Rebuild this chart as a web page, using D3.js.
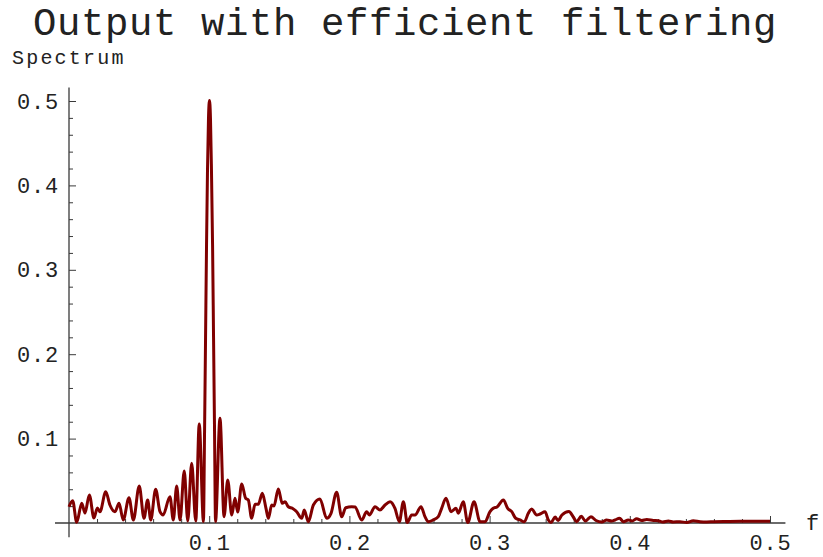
<!DOCTYPE html>
<html>
<head>
<meta charset="utf-8">
<script src="https://cdn.jsdelivr.net/npm/d3@7/dist/d3.min.js"></script>
<style>
  html, body { margin: 0; padding: 0; background: #fff; }
  svg { display: block; }
  text { font-family: 'Liberation Mono', 'Courier New', monospace; fill: #222; }
</style>
</head>
<body>
<svg id="chart" width="823" height="557"></svg>
<script>
// ---- data ----
const titleText = "Output with efficient filtering";
const yLabel = "Spectrum";
const xLabel = "f";
const xTickValues = [0.1, 0.2, 0.3, 0.4, 0.5];
const yTickValues = [0.1, 0.2, 0.3, 0.4, 0.5];
const minorStep = 0.02;

const freq = [
  0.0000, 0.0026, 0.0055, 0.0091, 0.0114, 0.0145, 0.0178, 0.0202, 0.0221, 0.0262,
  0.0292, 0.0328, 0.0357, 0.0387, 0.0428, 0.0459, 0.0501, 0.0535, 0.0561, 0.0583,
  0.0618, 0.0649, 0.0671, 0.0720, 0.0744, 0.0768, 0.0792, 0.0822, 0.0847, 0.0875,
  0.0904, 0.0929, 0.0959,
  0.0967, 0.0974, 0.0981, 0.0988, 0.0995, 0.1002, 0.1009, 0.1016, 0.1024, 0.1031, 0.1038,
  0.1045, 0.1077, 0.1106, 0.1132, 0.1161, 0.1184, 0.1203, 0.1232, 0.1260, 0.1279,
  0.1303, 0.1327, 0.1350, 0.1379, 0.1405, 0.1422, 0.1446, 0.1462, 0.1493, 0.1521,
  0.1541, 0.1564, 0.1593, 0.1624, 0.1660, 0.1678, 0.1707, 0.1743, 0.1790, 0.1838,
  0.1869, 0.1909, 0.1945, 0.1974, 0.2016, 0.2040, 0.2088, 0.2123, 0.2142, 0.2183,
  0.2218, 0.2254, 0.2290, 0.2325, 0.2356, 0.2385, 0.2413, 0.2444, 0.2468, 0.2511,
  0.2539, 0.2563, 0.2598, 0.2634, 0.2658, 0.2689, 0.2725, 0.2760, 0.2777, 0.2812,
  0.2844, 0.2889, 0.2932, 0.2967, 0.3003, 0.3026, 0.3053, 0.3098, 0.3129, 0.3158,
  0.3186, 0.3217, 0.3248, 0.3276, 0.3300, 0.3336, 0.3360, 0.3395, 0.3419, 0.3438,
  0.3467, 0.3488, 0.3516, 0.3566, 0.3597, 0.3621, 0.3654, 0.3684, 0.3723, 0.3759,
  0.3800, 0.3835, 0.3871, 0.3894, 0.3927, 0.3955, 0.3989, 0.4016, 0.4049, 0.4085,
  0.4121, 0.4168, 0.4203, 0.4235, 0.4275, 0.4310, 0.4358, 0.4406, 0.4453, 0.4501,
  0.4549, 0.4596, 0.4691, 0.4786, 0.4881, 0.5000
];
const spectrum = [
  0.0193, 0.0264, 0.0008, 0.0233, 0.0118, 0.0332, 0.0059, 0.0178, 0.0134, 0.0371,
  0.0213, 0.0134, 0.0233, 0.0036, 0.0300, 0.0036, 0.0438, 0.0056, 0.0273, 0.0036,
  0.0399, 0.0134, 0.0095, 0.0312, 0.0036, 0.0438, 0.0036, 0.0616, 0.0024, 0.0707,
  0.0024, 0.1173, 0.0018,
  0.1100, 0.2200, 0.3300, 0.4200, 0.4800, 0.5006, 0.4800, 0.4200, 0.3300, 0.2200, 0.1100,
  0.0018, 0.1241, 0.0075, 0.0509, 0.0095, 0.0293, 0.0130, 0.0462, 0.0293, 0.0273,
  0.0056, 0.0222, 0.0222, 0.0352, 0.0174, 0.0056, 0.0213, 0.0201, 0.0403, 0.0233,
  0.0252, 0.0193, 0.0174, 0.0134, 0.0056, 0.0154, 0.0015, 0.0213, 0.0284, 0.0056,
  0.0115, 0.0364, 0.0075, 0.0181, 0.0193, 0.0190, 0.0036, 0.0134, 0.0095, 0.0193,
  0.0154, 0.0213, 0.0252, 0.0174, 0.0015, 0.0252, 0.0005, 0.0095, 0.0095, 0.0193,
  0.0075, 0.0015, 0.0036, 0.0075, 0.0174, 0.0293, 0.0134, 0.0174, 0.0115, 0.0252,
  0.0005, 0.0252, 0.0015, 0.0015, 0.0134, 0.0174, 0.0190, 0.0273, 0.0174, 0.0134,
  0.0056, 0.0036, 0.0015, 0.0115, 0.0166, 0.0095, 0.0107, 0.0134, 0.0036, 0.0005,
  0.0071, 0.0030, 0.0095, 0.0136, 0.0071, 0.0015, 0.0079, 0.0024, 0.0075, 0.0030,
  0.0012, 0.0036, 0.0024, 0.0036, 0.0056, 0.0015, 0.0036, 0.0024, 0.0051, 0.0030,
  0.0041, 0.0030, 0.0027, 0.0012, 0.0024, 0.0012, 0.0015, 0.0006, 0.0027, 0.0015,
  0.0012, 0.0015, 0.0018, 0.0020, 0.0020, 0.0020
];

// ---- chart ----
const svg = d3.select("#chart");
const x = d3.scaleLinear().domain([0, 0.5]).range([69, 770]);
const y = d3.scaleLinear().domain([0, 0.5]).range([523, 101]);
const axisColor = "#3a3a3a";
const textColor = "#2a2a2a";

// title
svg.append("text")
  .attr("x", 405).attr("y", 35)
  .attr("text-anchor", "middle")
  .attr("fill", textColor)
  .style("font-size", "39px")
  .style("letter-spacing", "0.6px")
  .text(titleText);

// axis labels
svg.append("text").attr("x", 12).attr("y", 64)
  .attr("fill", textColor)
  .style("font-size", "20px").style("letter-spacing", "2.2px").text(yLabel);
svg.append("text").attr("x", 806).attr("y", 530)
  .attr("fill", textColor)
  .style("font-size", "22px").text(xLabel);

// minor ticks
const minorX = d3.range(1, 25).map(i => +(i * minorStep).toFixed(2)).filter(v => Math.abs(v * 10 - Math.round(v * 10)) > 1e-6);
const minorY = minorX;

const gxMinor = svg.append("g").attr("transform", `translate(0,${y(0)})`)
  .call(d3.axisBottom(x).tickValues(minorX).tickSizeInner(-4).tickSizeOuter(0).tickFormat(""));
const gyMinor = svg.append("g").attr("transform", `translate(${x(0)},0)`)
  .call(d3.axisLeft(y).tickValues(minorY).tickSizeInner(-4).tickSizeOuter(0).tickFormat(""));

// major ticks
const gx = svg.append("g").attr("transform", `translate(0,${y(0)})`)
  .call(d3.axisBottom(x).tickValues(xTickValues).tickSizeInner(-7).tickSizeOuter(0)
    .tickPadding(12).tickFormat(d3.format(".1f")));
const gy = svg.append("g").attr("transform", `translate(${x(0)},0)`)
  .call(d3.axisLeft(y).tickValues(yTickValues).tickSizeInner(-7).tickSizeOuter(0)
    .tickPadding(10).tickFormat(d3.format(".1f")));

[gxMinor, gyMinor, gx, gy].forEach(g => {
  g.select(".domain").remove();
  g.selectAll(".tick line").attr("stroke", axisColor).attr("stroke-width", 1);
  g.selectAll(".tick text").attr("fill", textColor).style("font-size", "22px")
    .style("letter-spacing", "0.8px")
    .style("font-family", "'Liberation Mono', 'Courier New', monospace");
});
gx.selectAll(".tick text").attr("dy", "0.68em");

// axis lines
svg.append("line")
  .attr("x1", x(-0.01)).attr("x2", x(0.511))
  .attr("y1", y(0)).attr("y2", y(0))
  .attr("stroke", axisColor).attr("stroke-width", 1.3);
svg.append("line")
  .attr("x1", x(0)).attr("x2", x(0))
  .attr("y1", y(-0.017)).attr("y2", y(0.516))
  .attr("stroke", axisColor).attr("stroke-width", 1.3);

// curve
const pts = freq.map((f, i) => [f, spectrum[i]]);
const line = d3.line().x(d => x(d[0])).y(d => y(d[1])).curve(d3.curveMonotoneX);
svg.append("path")
  .datum(pts)
  .attr("d", line)
  .attr("fill", "none")
  .attr("stroke", "#800000")
  .attr("stroke-width", 3)
  .attr("stroke-linejoin", "round");
</script>
</body>
</html>
